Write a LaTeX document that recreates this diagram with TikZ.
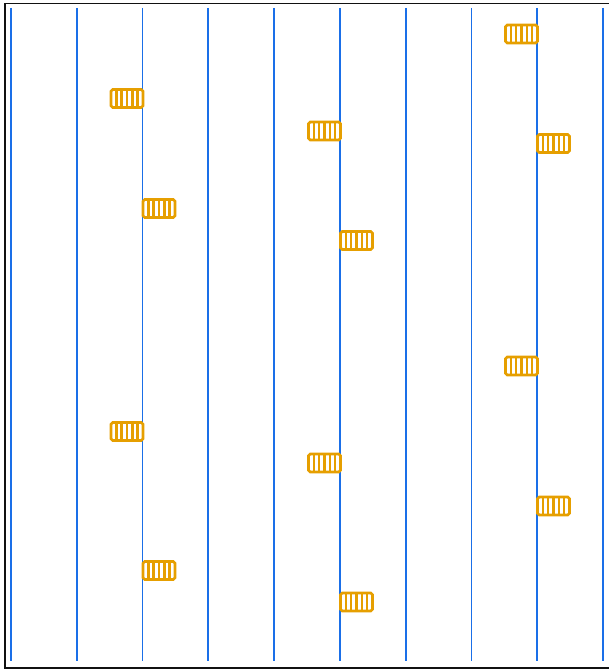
\documentclass[tikz,border=0pt]{standalone}
\usepackage{tikz}
\usepackage{xcolor}
\usetikzlibrary{
    positioning,
    calc
}
\definecolor{AzulLinha}{HTML}{1A6FE8}
\definecolor{Laranja}{HTML}{E69F00}
\definecolor{Moldura}{HTML}{111111}

\begin{document}
\begin{tikzpicture}[
                x=0.02cm, y=-0.02cm,
                grade/.style={AzulLinha, line width=1pt},
                bloco/.style={
                    draw=Laranja,
                    line width=1.5pt,
                    rounded corners=1pt,
                    minimum width=0.64cm,
                    minimum height=0.36cm,
                    inner sep=0pt,
                    outer sep=0pt,
                    path picture={
                        \foreach \k in {1,...,5}
                            \draw[Laranja, line width=1.4pt]
                                ($(path picture bounding box.south west)!\k/6!(path picture bounding box.south east)$)
                                -- ($(path picture bounding box.north west)!\k/6!(path picture bounding box.north east)$);
                    }
                }
            ]

                \useasboundingbox (0,0) rectangle (608,671);

                % moldura
                \draw[Moldura, line width=1.1pt] (5,3.5) rectangle (625,668);

                % linhas verticais
                \foreach \i in {0,...,9}
                    \draw[grade] ({11+\i*65.78},8) -- ({11+\i*65.78},661);

                % blocos: esquerda, direita, esquerda, direita
                \foreach \col/\ya/\yb/\yc/\yd [count=\n] in
                    {143/98.5/208.5/431.5/570.5,
                     340.5/131/240.5/463/602,
                     537.5/34/143.5/366/506}{
                    \node[bloco, anchor=east] (esq-\n-a) at (\col,\ya) {};
                    \node[bloco, anchor=west] (dir-\n-a) at (\col,\yb) {};
                    \node[bloco, anchor=east] (esq-\n-b) at (\col,\yc) {};
                    \node[bloco, anchor=west] (dir-\n-b) at (\col,\yd) {};
                }

            \end{tikzpicture}
\end{document}
